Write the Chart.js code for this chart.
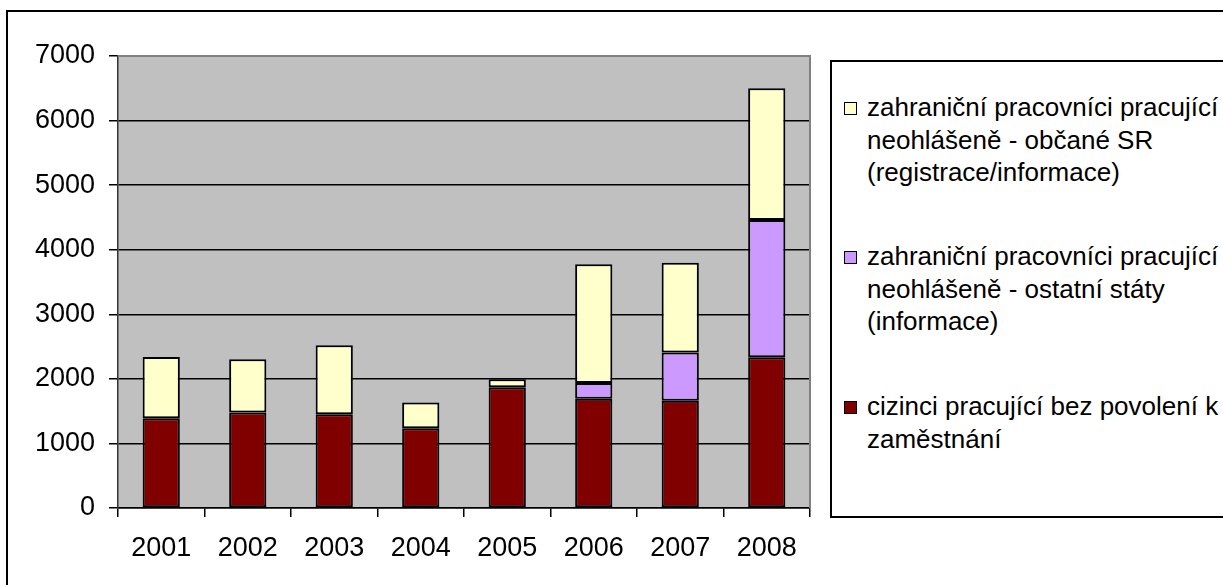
<!DOCTYPE html>
<html>
<head>
<meta charset="utf-8">
<script src="https://cdn.jsdelivr.net/npm/chart.js@4"></script>
<style>
  body { margin: 0; background: #fff; font-family: "Liberation Sans", Arial, sans-serif; }
  #wrap { position: relative; width: 1223px; height: 585px; overflow: hidden; }
  #frame { position: absolute; left: 6px; top: 10px; width: 1240px; height: 600px; border: 2px solid #000; }
  #c { position: absolute; left: 0; top: 0; }
  #legend { position: absolute; left: 830px; top: 60px; width: 420px; height: 454px; border: 2px solid #000; background: #fff; }
  .item { position: absolute; left: 35px; font-size: 26px; line-height: 32.5px; color: #000; white-space: nowrap; }
  .sw { position: absolute; left: -23px; top: 11px; width: 11px; height: 11px; border: 1px solid #000; }
</style>
</head>
<body>
<div id="wrap">
  <div id="frame"></div>
  <canvas id="c" width="1223" height="585"></canvas>
  <div id="legend"></div>
</div>
<script>
// data
const years = ["2001", "2002", "2003", "2004", "2005", "2006", "2007", "2008"];
const cizinci = [1390, 1480, 1450, 1235, 1870, 1690, 1660, 2335];
const ostatniStaty = [0, 0, 0, 0, 0, 245, 750, 2125];
const obcaneSR = [950, 825, 1070, 400, 125, 1840, 1390, 2040];
const yTicks = [0, 1000, 2000, 3000, 4000, 5000, 6000, 7000];

const labels = [
  ["cizinci pracující bez povolení k", "zaměstnání"],
  ["zahraniční pracovníci pracující", "neohlášeně - ostatní státy", "(informace)"],
  ["zahraniční pracovníci pracující", "neohlášeně - občané SR", "(registrace/informace)"]
];
const colors = ["#800000", "#CC99FF", "#FFFFCC"];

const font = { family: "'Liberation Sans', Arial, sans-serif", size: 27 };

// gray plot area like the excel original
const plotBg = {
  id: "plotBg",
  beforeDraw(chart) {
    const { ctx, chartArea: a } = chart;
    ctx.save();
    ctx.fillStyle = "#C0C0C0";
    ctx.fillRect(a.left, a.top, a.right - a.left, a.bottom - a.top);
    ctx.restore();
  },
  afterDatasetsDraw(chart) {
    const { ctx, chartArea: a } = chart;
    ctx.save();
    ctx.strokeStyle = "#808080";
    ctx.lineWidth = 2;
    ctx.beginPath();
    ctx.moveTo(a.left, a.top);
    ctx.lineTo(a.right, a.top);
    ctx.lineTo(a.right, a.bottom);
    ctx.stroke();
    ctx.restore();
  }
};

const datasets = [cizinci, ostatniStaty, obcaneSR].map((d, i) => ({
  label: labels[i].join(" "),
  data: d,
  backgroundColor: colors[i],
  borderColor: "#000",
  borderWidth: 2,
  borderSkipped: false,
  barPercentage: 0.43,
  categoryPercentage: 1
}));

new Chart(document.getElementById("c"), {
  type: "bar",
  data: { labels: years, datasets: datasets },
  plugins: [plotBg],
  options: {
    responsive: false,
    animation: false,
    layout: { padding: { left: 0, top: 56, right: 413, bottom: 0 } },
    plugins: { legend: { display: false }, tooltip: { enabled: false } },
    scales: {
      x: {
        stacked: true,
        afterFit(s) { s.height = 77; },
        grid: { offset: true, drawOnChartArea: false, color: "#000", tickLength: 9, lineWidth: 1.5 },
        border: { color: "#000", width: 1.5 },
        ticks: { color: "#000", font: font, padding: 15 }
      },
      y: {
        stacked: true,
        min: 0,
        max: 7000,
        afterFit(s) { s.width = 118; },
        afterBuildTicks(s) { s.ticks = yTicks.map(v => ({ value: v })); },
        grid: {
          color: c => (c.tick && c.tick.value === 7000 ? "#808080" : "#000"),
          tickColor: "#000",
          tickLength: 9,
          lineWidth: 1.5
        },
        border: { color: "#333", width: 1.5 },
        ticks: { color: "#000", font: font, padding: 14, callback: v => String(v) }
      }
    }
  }
});

// legend on the right, top series first
const lg = document.getElementById("legend");
const tops = [29, 178, 328];
[2, 1, 0].forEach((idx, k) => {
  const it = document.createElement("div");
  it.className = "item";
  it.style.top = tops[k] + "px";
  const sw = document.createElement("span");
  sw.className = "sw";
  sw.style.background = colors[idx];
  it.appendChild(sw);
  labels[idx].forEach((t, j) => {
    if (j) it.appendChild(document.createElement("br"));
    it.appendChild(document.createTextNode(t));
  });
  lg.appendChild(it);
});
</script>
</body>
</html>
